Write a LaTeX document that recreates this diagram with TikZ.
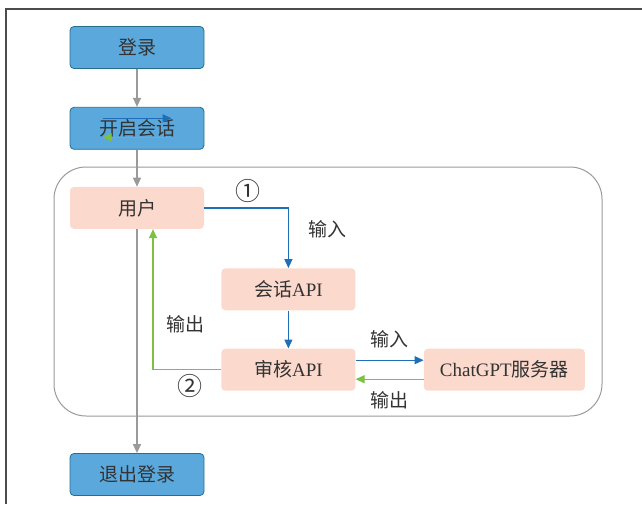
\documentclass[tikz,border=0pt]{standalone}
\usepackage{fontspec}
\setmainfont{Liberation Serif}
\newfontfamily\cjk{Noto Sans CJK SC}
\usetikzlibrary{arrows.meta, positioning, calc}

\definecolor{boxblue}{HTML}{5AA8DC}
\definecolor{boxedge}{HTML}{23708E}
\definecolor{boxpink}{HTML}{FBD9CC}
\definecolor{lineblue}{HTML}{1F6FB8}
\definecolor{linegreen}{HTML}{7CC142}
\definecolor{linegray}{HTML}{9A9A9A}
\definecolor{textgray}{HTML}{333333}

\begin{document}
\begin{tikzpicture}[
    x=1pt, y=-1pt,
    every node/.style={text=textgray, font=\fontsize{19}{22}\selectfont},
    node distance=38pt,
    stage/.style={rectangle, rounded corners=4pt, draw=boxedge, thick, fill=boxblue,
                  minimum width=134pt, minimum height=42pt, inner sep=0pt},
    part/.style={rectangle, rounded corners=4pt, fill=boxpink,
                 minimum width=134pt, minimum height=42pt, inner sep=0pt},
    step_no/.style={font=\fontsize{25}{26}\selectfont, inner sep=0pt},
    flow/.style={-{Triangle[length=9pt,width=8pt]}, line width=1.2pt, linegray},
    ask/.style={-{Triangle[length=9pt,width=8pt]}, line width=1.2pt, lineblue},
    reply/.style={-{Triangle[length=9pt,width=8pt]}, line width=1.2pt, linegreen}
    ]
    \useasboundingbox (0,0) rectangle (642,504);

    % Frame
    \draw[line width=1.3pt, black!70] (642,9) -- (6,9) -- (6,504);

    % Container
    \draw[linegray, line width=1pt, rounded corners=32pt] (54,167) rectangle (602,416);

    % Nodes
    \node[stage] (login) at (137,47.5) {\cjk 登录};
    \node[stage] (session) [below=of login] {\cjk 开启会话};
    \node[part] (user) [below=37pt of session] {\cjk 用户};
    \node[part] (chatapi) [below right=39pt and 17pt of user] {{\cjk 会话}API};
    \node[part] (audit) [below=of chatapi] {{\cjk 审核}API};
    \node[part, minimum width=161pt] (gpt) [right=68pt of audit] {ChatGPT{\cjk 服务器}};
    \node[stage] (logout) [below=224pt of user] {\cjk 退出登录};

    % Marks on session box
    \coordinate (sa) at ($(session.west)+(33pt,10pt)$);
    \coordinate (sb) at ($(session.west)+(102pt,10pt)$);
    \coordinate (sc) at ($(session.west)+(100pt,-9pt)$);
    \coordinate (sd) at ($(session.west)+(33pt,-9pt)$);
    \draw[ask] (sa) -- (sb);
    \draw[reply] (sc) -- (sd);

    % Arrows
    \draw[flow] (login) -- (session);
    \draw[flow] (session) -- (user);
    \draw[flow] (user) -- (logout);
    \draw[ask] (user.east) -| node[pos=0.26, above=5pt, step_no] {\cjk ①}
                               node[pos=0.675, right=16pt] {\cjk 输入} (chatapi.north);
    \draw[ask] (chatapi) -- (audit);
    \draw[ask] ([yshift=9.5pt]audit.east) -- node[above=8pt] {\cjk 输入} ([yshift=9.5pt]gpt.west);
    \draw[reply] ([yshift=-9.5pt]gpt.west) -- node[below=8pt] {\cjk 输出} ([yshift=-9.5pt]audit.east);
    \draw[reply] (audit.west) -| node[pos=0.66, right=10pt] {\cjk 输出}
                                  ([xshift=16pt]user.south);
    \node[step_no] (two) at (190,386) {\cjk ②};
\end{tikzpicture}
\end{document}
